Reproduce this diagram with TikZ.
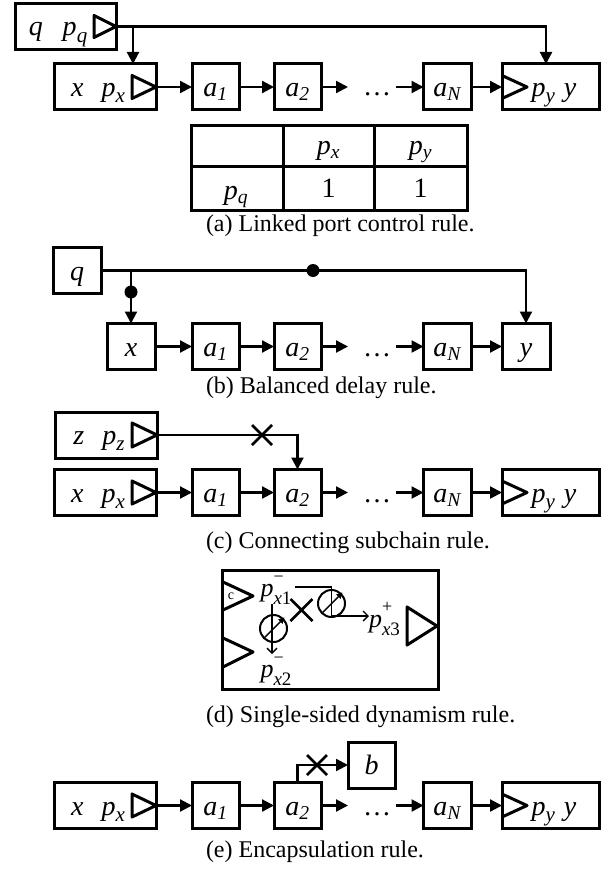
\documentclass[tikz,border=0pt]{standalone}
\usepackage{fontspec}
\setmainfont{Liberation Serif}
\usetikzlibrary{arrows.meta,shapes.misc}
\newcommand\iv[1]{\textit{#1}}
\newcommand\sbs[2]{\textit{#1}\textsubscript{\textit{#2}}}
\newcommand\psb[2]{\textit{#1}\raisebox{-0.22em}{\fontsize{21}{21}\selectfont\itshape #2}}
\newcommand\pms[3]{\textit{#1}\rlap{\raisebox{0.55em}{\fontsize{18}{18}\selectfont #2}}\raisebox{-0.3em}{\fontsize{19}{19}\selectfont\itshape #3}}
\begin{document}
\begin{tikzpicture}[x=1pt,y=-1pt,
 every node/.style={inner sep=0pt, outer sep=0pt},
 box/.style={draw, line width=3pt, minimum height=46pt, text height=22pt, text depth=3pt, font=\fontsize{28}{30}\selectfont},
 lab/.style={font=\fontsize{28}{30}\selectfont},
 captxt/.style={anchor=west, font=\fontsize{24}{26}\selectfont},
 wire/.style={line width=2.2pt},
 conn/.style={wire, -{Triangle[length=12pt,width=12pt]}},
 tri/.style={line width=3pt, line join=round},
 dot/.style={circle, fill, minimum size=13pt},
 xmark/.style={cross out, draw, line width=2.5pt, minimum size=20pt},
 thinline/.style={line width=1.4pt},
 thinarr/.style={thinline, -{Straight Barb[length=5pt,width=10pt]}},
 src/.style={circle, draw, line width=2pt, minimum size=27pt},
 dlab/.style={font=\fontsize{26}{28}\selectfont}]

\useasboundingbox (0,0) rectangle (610,869);

% ---------------- (a)
\node[box, minimum width=101pt] (qa) at (65.5,26.5) {\iv{q}\kern20pt\psb{p}{q}\kern15pt};
\draw[tri] (qa.east) -- ++(-22,11) -- ++(0,-22) -- cycle;
\node[box, minimum width=102pt] (xa) at (105,87) {\iv{x}\kern18pt\psb{p}{x}\kern14pt};
\draw[tri] (xa.east) -- ++(-24,11.5) -- ++(0,-23) -- cycle;
\node[box, minimum width=47pt] (a1a) at (215.5,87) {\sbs{a}{1}};
\node[box, minimum width=47pt] (a2a) at (297.5,87) {\sbs{a}{2}};
\node[lab, anchor=base] (dta) at (377,96) {…};
\node[box, minimum width=48pt] (aNa) at (447.5,87) {\sbs{a}{N}};
\node[box, minimum width=97pt] (ya) at (550.5,87) {\kern7pt\psb{p}{y}\kern9pt\iv{y}};
\draw[tri] ([yshift=11.5pt]ya.west) -- ++(25,11.5) -- ++(-25,11.5);
\coordinate (ea) at (348,87);
\coordinate (sa) at (396,87);
\draw[conn] (xa.east) -- (a1a.west);
\draw[conn] (a1a.east) -- (a2a.west);
\draw[conn] (a2a.east) -- (ea);
\draw[conn] (sa) -- (aNa.west);
\draw[conn] (aNa.east) -- (ya.west);
\draw[conn] (qa.east) -| ([xshift=-4.5pt]ya.north);
\coordinate (ja) at (133,26.5);
\draw[conn] (ja) -- (ja |- xa.north);

% table
\draw[line width=3pt] (191,126) rectangle (467,210);
\draw[line width=3pt] (191,167) -- (467,167) (283,126) -- (283,210) (374,126) -- (374,210);
\node[lab, anchor=base] (tpx) at (328.5,155) {\sbs{p}{x}};
\node[lab, anchor=base] (tpy) at (420.5,155) {\sbs{p}{y}};
\node[lab, anchor=base] (tpq) at (236,200) {\sbs{p}{q}};
\node[lab, anchor=base] (t1) at (328.5,197) {1};
\node[lab, anchor=base] (t2) at (420.5,197) {1};
\node[captxt] (capa) at (206,226) {(a) Linked port control rule.};

% ---------------- (b)
\node[box, minimum width=48pt] (qb) at (77,270.5) {\iv{q}};
\node[box, minimum width=48pt] (xb) at (131,346.5) {\iv{x}};
\node[box, minimum width=47pt] (a1b) at (215.5,346.5) {\sbs{a}{1}};
\node[box, minimum width=47pt] (a2b) at (297.5,346.5) {\sbs{a}{2}};
\node[lab, anchor=base] (dtb) at (377,356) {…};
\node[box, minimum width=48pt] (aNb) at (447.5,346.5) {\sbs{a}{N}};
\node[box, minimum width=48pt] (yb) at (526,346.5) {\iv{y}};
\coordinate (eb) at (348,346.5);
\coordinate (sb) at (396,346.5);
\draw[conn] (xb.east) -- (a1b.west);
\draw[conn] (a1b.east) -- (a2b.west);
\draw[conn] (a2b.east) -- (eb);
\draw[conn] (sb) -- (aNb.west);
\draw[conn] (aNb.east) -- (yb.west);
\draw[conn] (qb.east) -| (yb.north);
\coordinate (jb) at (131,270.5);
\draw[conn] (jb) -- (xb.north);
\node[dot] (db1) at (313,270.5) {};
\node[dot] (db2) at (131,292) {};
\node[captxt] (capb) at (206,388) {(b) Balanced delay rule.};

% ---------------- (c)
\node[box, minimum width=102pt] (zc) at (106,435) {\iv{z}\kern18pt\psb{p}{z}\kern14pt};
\draw[tri] (zc.east) -- ++(-25,12) -- ++(0,-24) -- cycle;
\node[box, minimum width=102pt] (xc) at (105,492.5) {\iv{x}\kern18pt\psb{p}{x}\kern14pt};
\draw[tri] (xc.east) -- ++(-24,11.5) -- ++(0,-23) -- cycle;
\node[box, minimum width=47pt] (a1c) at (215.5,492.5) {\sbs{a}{1}};
\node[box, minimum width=47pt] (a2c) at (297.5,492.5) {\sbs{a}{2}};
\node[lab, anchor=base] (dtc) at (377,502) {…};
\node[box, minimum width=48pt] (aNc) at (447.5,492.5) {\sbs{a}{N}};
\node[box, minimum width=97pt] (yc) at (550.5,492.5) {\kern7pt\psb{p}{y}\kern9pt\iv{y}};
\draw[tri] ([yshift=11.5pt]yc.west) -- ++(25,11.5) -- ++(-25,11.5);
\coordinate (ec) at (348,492.5);
\coordinate (sc) at (396,492.5);
\draw[conn] (xc.east) -- (a1c.west);
\draw[conn] (a1c.east) -- (a2c.west);
\draw[conn] (a2c.east) -- (ec);
\draw[conn] (sc) -- (aNc.west);
\draw[conn] (aNc.east) -- (yc.west);
\draw[conn] (zc.east) -| (a2c.north);
\node[xmark] (xc1) at (262,435) {};
\node[captxt] (capc) at (206,543) {(c) Connecting subchain rule.};

% ---------------- (d)
\node[draw, line width=3pt, minimum width=216pt, minimum height=119pt] (dbox) at (330,629.5) {};
\draw[tri] (223,582) -- (253,596) -- (223,610);
\draw[tri] (223,638) -- (253,652) -- (223,667);
\draw[tri] (407,607) -- (437,626) -- (407,645) -- cycle;
\node[font=\fontsize{14}{14}\selectfont] (cl) at (231,596) {c};
\node[dlab] (px1) at (276,590) {\pms{p}{−}{x\upshape 1}};
\node[dlab] (px2) at (276,671) {\pms{p}{−}{x\upshape 2}};
\node[dlab, anchor=west] (px3) at (369,619) {\pms{p}{+}{x\upshape 3}};
\node[src] (c1) at (331.5,603.5) {};
\node[src] (c2) at (273.5,628.5) {};
\coordinate (d1) at (295,587);
\draw[thinarr] (d1) -| (c1.center) |- ([yshift=3pt]px3.west);
\draw[thinline, -{Triangle[length=6pt,width=6pt]}] ([shift={(-10,10)}]c1.center) -- ([shift={(11,-11)}]c1.center);
\coordinate (d2s) at (272,604);
\coordinate (d2e) at (272,654);
\draw[thinarr] (d2s) -- (d2e);
\draw[thinline, -{Triangle[length=6pt,width=6pt]}] ([shift={(-10,10)}]c2.center) -- ([shift={(11,-11)}]c2.center);
\node[xmark, minimum size=22pt] (xd) at (301.5,610) {};
\node[captxt] (capd) at (206,717) {(d) Single-sided dynamism rule.};

% ---------------- (e)
\node[box, minimum width=102pt] (xe) at (105,805.5) {\iv{x}\kern18pt\psb{p}{x}\kern14pt};
\draw[tri] (xe.east) -- ++(-24,11.5) -- ++(0,-23) -- cycle;
\node[box, minimum width=47pt] (a1e) at (215.5,805.5) {\sbs{a}{1}};
\node[box, minimum width=47pt] (a2e) at (297.5,805.5) {\sbs{a}{2}};
\node[lab, anchor=base] (dte) at (377,815) {…};
\node[box, minimum width=48pt] (aNe) at (447.5,805.5) {\sbs{a}{N}};
\node[box, minimum width=97pt] (ye) at (550.5,805.5) {\kern7pt\psb{p}{y}\kern9pt\iv{y}};
\draw[tri] ([yshift=11.5pt]ye.west) -- ++(25,11.5) -- ++(-25,11.5);
\node[box, minimum width=47pt] (be) at (371.5,765) {\iv{b}};
\coordinate (ee) at (348,805.5);
\coordinate (se) at (396,805.5);
\draw[conn] (xe.east) -- (a1e.west);
\draw[conn] (a1e.east) -- (a2e.west);
\draw[conn] (a2e.east) -- (ee);
\draw[conn] (se) -- (aNe.west);
\draw[conn] (aNe.east) -- (ye.west);
\draw[conn] (a2e.north) |- (be.west);
\node[xmark] (xe1) at (317,765) {};
\node[captxt] (cape) at (206,852) {(e) Encapsulation rule.};
\end{tikzpicture}
\end{document}
